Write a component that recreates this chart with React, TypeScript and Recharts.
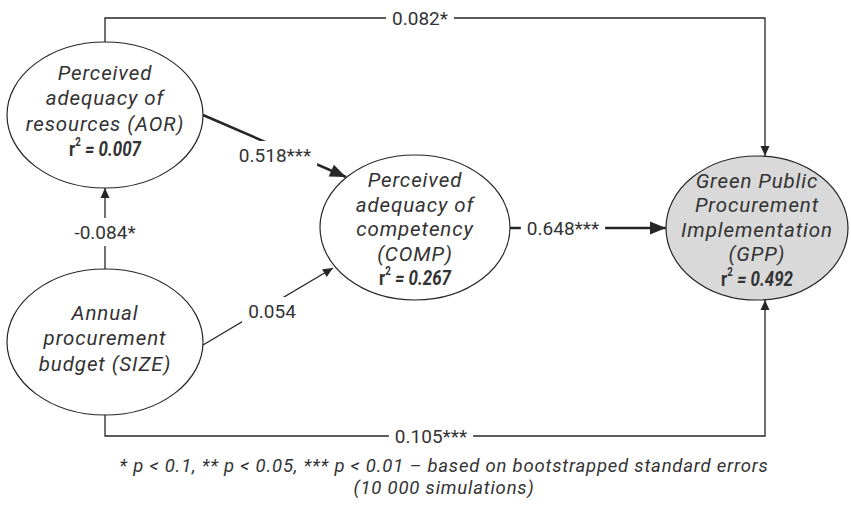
import React from "react";
import { Scatter, ScatterChart, XAxis, YAxis } from "recharts";

// diagram units, y grows downwards (y axis reversed)
const nodeKeys = ["AOR", "SIZE", "COMP", "GPP"];
const nodeX = [105, 105, 415, 757];
const nodeY = [115, 342, 227.5, 228];
const nodeText = [
  ["Perceived", "adequacy of", "resources (AOR)"],
  ["Annual", "procurement", "budget (SIZE)"],
  ["Perceived", "adequacy of", "competency", "(COMP)"],
  ["Green Public", "Procurement", "Implementation", "(GPP)"]
];
const nodeR2 = ["0.007", "", "0.267", "0.492"];

// structural paths
const pathFrom = ["AOR", "AOR", "SIZE", "SIZE", "COMP", "SIZE"];
const pathTo = ["GPP", "COMP", "AOR", "COMP", "GPP", "GPP"];
const pathCoef = ["0.082*", "0.518***", "-0.084*", "0.054", "0.648***", "0.105***"];
const pathRouteX = [
  [105, 105, 765, 765],
  [203, 346],
  [105, 105],
  [203, 333],
  [510, 666],
  [105, 105, 765, 765]
];
const pathRouteY = [
  [42, 18, 18, 156],
  [115, 177],
  [269, 188],
  [345, 268],
  [228, 228],
  [415, 436, 436, 300]
];
const pathLabelX = [420, 275, 105, 272, 563, 431];
const pathLabelY = [18, 155, 232, 311, 228, 436];

const footnotes = [
  "* p < 0.1, ** p < 0.05, *** p < 0.01 – based on bootstrapped standard errors",
  "(10 000 simulations)"
];
const footnoteX = [444, 444];
const footnoteY = [466, 488];

// layout / style
const FONT = "Roboto, 'Noto Sans', sans-serif";
const INK = "#262626";
const TEXT = "#333333";
const ellipseSize: Record<string, [number, number]> = {
  AOR: [98, 73],
  SIZE: [98, 73],
  COMP: [95, 72.5],
  GPP: [91, 72]
};
const strongPaths = new Set(["AOR-COMP", "COMP-GPP"]);

let ctx: CanvasRenderingContext2D | null = null;
function textWidth(text: string, font: string) {
  if (!ctx) ctx = document.createElement("canvas").getContext("2d");
  if (!ctx) return text.length * 9.5;
  ctx.font = font;
  return ctx.measureText(text).width;
}

const nodes = nodeKeys.map((key, i) => ({
  key,
  x: nodeX[i],
  y: nodeY[i],
  lines: nodeText[i],
  r2: nodeR2[i]
}));

const paths = pathCoef.map((coef, i) => {
  const xs = pathRouteX[i];
  const ys = pathRouteY[i];
  const n = xs.length;
  const angle = Math.atan2(ys[n - 1] - ys[n - 2], xs[n - 1] - xs[n - 2]);
  return {
    id: `${pathFrom[i]}-${pathTo[i]}`,
    coef,
    points: xs.map((x, j) => ({ x, y: ys[j], tip: j === n - 1, angle }))
  };
});

const labels = paths.map((p, i) => ({ x: pathLabelX[i], y: pathLabelY[i], text: p.coef }));

function NodeShape(props: any) {
  const { cx, cy, payload } = props;
  const [rx, ry] = ellipseSize[payload.key];
  const lines: string[] = payload.lines;
  const hasR2 = payload.r2 !== "";
  const n = lines.length + (hasR2 ? 1 : 0);
  const lh = n >= 5 ? 24.5 : 25.5;
  const shift = n >= 5 ? 1.5 : -4;
  const y0 = cy + shift - ((n - 1) * lh) / 2;
  return (
    <g>
      <ellipse
        cx={cx}
        cy={cy}
        rx={rx}
        ry={ry}
        fill={payload.key === "GPP" ? "#d9d9d9" : "#ffffff"}
        stroke={INK}
        strokeWidth={1.2}
      />
      <text
        textAnchor="middle"
        dominantBaseline="central"
        fontFamily={FONT}
        fontStyle="italic"
        fontSize={20.5}
        letterSpacing={0.9}
        fill={TEXT}
      >
        {lines.map((t, i) => (
          <tspan key={i} x={cx} y={y0 + i * lh}>
            {t}
          </tspan>
        ))}
        {hasR2 && (
          <tspan
            x={cx}
            y={y0 + lines.length * lh}
            fontWeight={700}
            fontStyle="normal"
            fontSize={21}
            letterSpacing={0}
            textLength={72}
            lengthAdjust="spacingAndGlyphs"
          >
            r<tspan fontSize={12} dy={-7}>2</tspan>
            <tspan dy={7} fontStyle="italic">{` = ${payload.r2}`}</tspan>
          </tspan>
        )}
      </text>
    </g>
  );
}

function ArrowHead(props: any) {
  const { cx, cy, payload, strong } = props;
  if (!payload.tip) return <g />;
  const len = strong ? 16 : 10;
  const half = strong ? 6.5 : 4.5;
  const c = Math.cos(payload.angle);
  const s = Math.sin(payload.angle);
  const bx = cx - len * c;
  const by = cy - len * s;
  const pts = [
    [cx, cy],
    [bx - half * s, by + half * c],
    [bx + half * s, by - half * c]
  ];
  return <polygon points={pts.map((p) => p.join(",")).join(" ")} fill={INK} />;
}

function CoefLabel(props: any) {
  const { cx, cy, payload } = props;
  const w = textWidth(payload.text, `19px ${FONT}`) + 12;
  return (
    <g>
      <rect x={cx - w / 2} y={cy - 14} width={w} height={28} fill="#ffffff" />
      <text
        x={cx}
        y={cy}
        textAnchor="middle"
        dominantBaseline="central"
        fontFamily={FONT}
        fontSize={19}
        fill={TEXT}
      >
        {payload.text}
      </text>
    </g>
  );
}

function NoteText(props: any) {
  const { cx, cy } = props;
  return (
    <text
      textAnchor="middle"
      dominantBaseline="central"
      fontFamily={FONT}
      fontStyle="italic"
      fontSize={18.5}
      letterSpacing={0.8}
      fill={TEXT}
    >
      {footnotes.map((t, i) => (
        <tspan key={i} x={cx + footnoteX[i] - footnoteX[0]} y={cy + footnoteY[i] - footnoteY[0]}>
          {t}
        </tspan>
      ))}
    </text>
  );
}

export default function App() {
  return (
    <div style={{ position: "absolute", left: 0, top: 0, background: "#fff" }}>
      <ScatterChart width={851} height={505} margin={{ top: 0, right: 0, bottom: 0, left: 0 }}>
        <XAxis type="number" dataKey="x" domain={[0, 851]} hide />
        <YAxis type="number" dataKey="y" domain={[0, 505]} reversed hide />
        {paths.map((p) => {
          const strong = strongPaths.has(p.id);
          return (
            <Scatter
              key={p.id}
              data={p.points}
              fill={INK}
              line={{ stroke: INK, strokeWidth: strong ? 2.5 : 1.3 }}
              lineType="joint"
              shape={(sp: any) => <ArrowHead {...sp} strong={strong} />}
              isAnimationActive={false}
            />
          );
        })}
        <Scatter data={labels} shape={CoefLabel} isAnimationActive={false} />
        <Scatter data={nodes} shape={NodeShape} isAnimationActive={false} />
        <Scatter
          data={[{ x: footnoteX[0], y: footnoteY[0] }]}
          shape={NoteText}
          isAnimationActive={false}
        />
      </ScatterChart>
    </div>
  );
}
